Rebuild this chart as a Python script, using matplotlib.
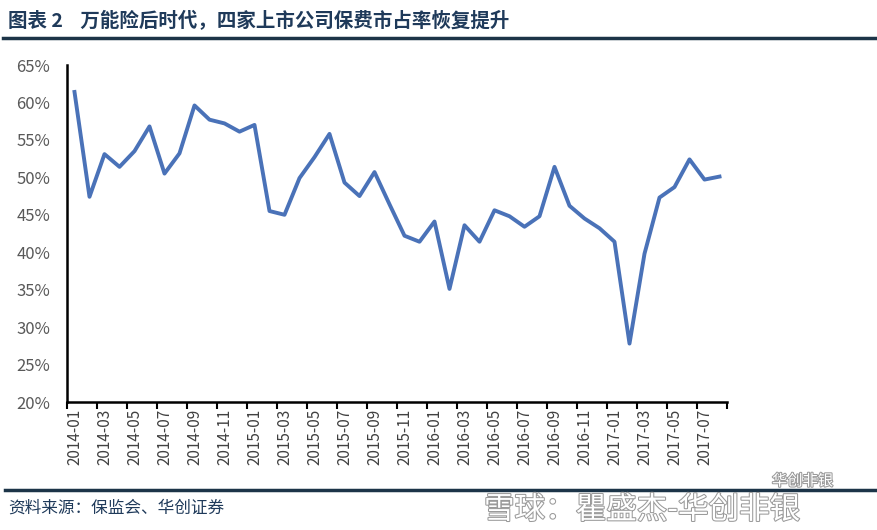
import numpy as np
import matplotlib
matplotlib.use("Agg")
import matplotlib.pyplot as plt
import matplotlib.patheffects as pe
from matplotlib.ticker import FixedLocator

plt.rcParams['font.family'] = ['Noto Sans CJK SC', 'DejaVu Sans']

# monthly share of the four listed insurers, 2014-01 .. 2017-08 (%)
months = ["%d-%02d" % (y, m) for y in range(2014, 2018) for m in range(1, 13)][:44]
share = [61.4, 47.4, 53.1, 51.4, 53.5, 56.8, 50.5, 53.2, 59.6, 57.7, 57.2, 56.1,
         57.0, 45.5, 45.0, 49.9, 52.7, 55.8, 49.3, 47.5, 50.7, 46.4, 42.2, 41.4,
         44.1, 35.1, 43.6, 41.4, 45.6, 44.8, 43.4, 44.8, 51.4, 46.2, 44.5, 43.2,
         41.4, 27.8, 39.8, 47.3, 48.7, 52.4, 49.7, 50.1]
yticks = [20, 25, 30, 35, 40, 45, 50, 55, 60, 65]

title = "图表 2    万能险后时代，四家上市公司保费市占率恢复提升"
source = "资料来源：保监会、华创证券"

fig = plt.figure(figsize=(8.78, 5.30), dpi=100)
ax = fig.add_axes([67/878, 1-402/530, 660/878, 337/530])

x = np.arange(len(months))
ax.plot(x, share, color="#4a72b8", lw=2.8, solid_joinstyle="round")

ax.set_xlim(-0.5, len(months) - 0.5)
ax.set_ylim(20, 65)
ax.set_yticks(yticks)
ax.set_yticklabels(["%d%%" % v for v in yticks], color="#595959", fontsize=12)
ax.tick_params(axis="y", length=0, pad=12)

# labels on every other month, ticks between categories
ax.xaxis.set_major_locator(FixedLocator(x[::2]))
ax.set_xticklabels(months[::2], rotation=90, fontsize=11, color="#404040")
ax.tick_params(axis="x", which="major", length=0, pad=5)
ax.xaxis.set_minor_locator(FixedLocator(np.arange(-0.5, len(months), 2)))
ax.tick_params(axis="x", which="minor", length=5, width=1.5, color="black", direction="out")

for s in ["top", "right"]:
    ax.spines[s].set_visible(False)
ax.spines["left"].set_linewidth(1.8)
ax.spines["bottom"].set_linewidth(1.8)

# header / footer
fig.text(8/878, 1-21/530, title, fontsize=14, fontweight="bold", color="#1f3a5a", va="center")
fig.add_artist(plt.Line2D([3/878, 1], [1-38/530, 1-38/530], color="#1c3448", lw=2.5))
fig.add_artist(plt.Line2D([5/878, 1], [1-490/530, 1-490/530], color="#1c3448", lw=2.5))
fig.text(8/878, 1-508/530, source, fontsize=12, color="#1f3a5a", va="center")

# watermarks
halo = [pe.withStroke(linewidth=1.5, foreground="#9a9a9a")]
fig.text(772/878, 1-481/530, "华创非银", fontsize=11, color="white", va="center", path_effects=halo)
fig.text(484/878, 1-510/530, "雪球：瞿盛杰-华创非银", fontsize=22, color="white", va="center",
         path_effects=halo)

fig.savefig("out.png", dpi=100)
